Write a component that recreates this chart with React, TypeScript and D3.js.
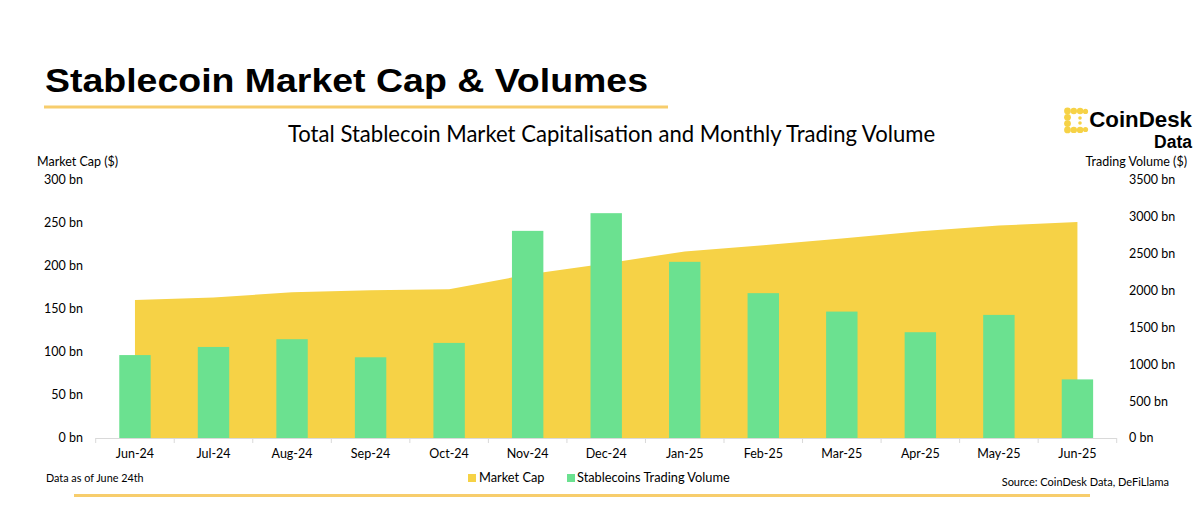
import React from "react";
import * as d3 from "d3";

// data (values in $bn)
const months = ["Jun-24", "Jul-24", "Aug-24", "Sep-24", "Oct-24", "Nov-24", "Dec-24", "Jan-25", "Feb-25", "Mar-25", "Apr-25", "May-25", "Jun-25"];
const marketCap = [160.5, 163.5, 169.4, 171.7, 172.9, 190, 203, 217, 224, 232, 240.5, 247, 251.2];
const tradingVolume = [1125, 1235, 1340, 1095, 1290, 2810, 3050, 2390, 1965, 1715, 1435, 1670, 795];
const leftTicks = [0, 50, 100, 150, 200, 250, 300];
const rightTicks = [0, 500, 1000, 1500, 2000, 2500, 3000, 3500];

const W = 1200;
const H = 509;
const plot = { left: 95.7, right: 1116.7, top: 180, bottom: 438 };

const YELLOW = "#F6D246";
const GREEN = "#6BE190";
const LINE = "#F7CD6C";
const body = "Lato, 'Open Sans', sans-serif";
const heavy = "'Liberation Sans', Arial, sans-serif";

export default function App() {
    const xs = d3.scalePoint(months, [plot.left, plot.right]).padding(0.5);
    const yL = d3.scaleLinear([0, 300], [plot.bottom, plot.top]);
    const yR = d3.scaleLinear([0, 3500], [plot.bottom, plot.top]);

    const area = d3.area<number>()
        .x((d, i) => xs(months[i])!)
        .y0(plot.bottom)
        .y1(d => yL(d));

    const step = xs.step();
    const boundaries = d3.range(months.length + 1).map(i => plot.left + i * step);

    // logo dots (a bracket made of circles)
    const dots: [number, number, number][] = [
        [0, 0, 3.4], [6.3, 0, 3.2], [12.6, 0, 3.2], [18, 0.4, 2.6],
        [0, 6.3, 3.4], [0, 12.6, 3.4], [0, 18.9, 3.4],
        [6.3, 18.9, 3.2], [12.6, 18.9, 3.2], [18, 18.5, 2.6],
        [12.5, 7, 1.8], [12.5, 12, 1.8],
    ];

    return (
        <div style={{ position: "absolute", left: 0, top: 0 }}>
            <svg width={W} height={H} style={{ display: "block", background: "#fff" }}>
                {/* headline */}
                <text x={45} y={92} fontFamily={heavy} fontWeight="bold" fontSize={33.5}
                    textLength={603} lengthAdjust="spacingAndGlyphs" fill="#000">
                    Stablecoin Market Cap &amp; Volumes
                </text>
                <rect x={44} y={105.5} width={624} height={3} fill={LINE} />

                {/* logo */}
                <g transform="translate(1067.5,111)">
                    {dots.map(([dx, dy, r], i) => <circle key={i} cx={dx} cy={dy} r={r} fill={YELLOW} />)}
                </g>
                <text x={1192} y={126.8} textAnchor="end" fontFamily={heavy} fontWeight="bold" fontSize={22.3}>CoinDesk</text>
                <text x={1192} y={148.3} textAnchor="end" fontFamily={heavy} fontWeight="bold" fontSize={17.5}>Data</text>

                {/* chart title */}
                <text x={611.5} y={142} textAnchor="middle" fontFamily={body} fontSize={22.1} fill="#000">
                    Total Stablecoin Market Capitalisation and Monthly Trading Volume
                </text>

                {/* axis titles */}
                <text x={37} y={166} fontFamily={body} fontSize={12.5}>Market Cap ($)</text>
                <text x={1187} y={166} textAnchor="end" fontFamily={body} fontSize={12.5}>Trading Volume ($)</text>

                {/* left ticks */}
                {leftTicks.map(t => (
                    <text key={t} x={83} y={yL(t)} dy="0.35em" textAnchor="end" fontFamily={body} fontSize={12.5}>{t} bn</text>
                ))}
                {/* right ticks */}
                {rightTicks.map(t => (
                    <text key={t} x={1129} y={yR(t)} dy="0.35em" fontFamily={body} fontSize={12.5}>{t} bn</text>
                ))}

                {/* market cap area */}
                <path d={area(marketCap)!} fill={YELLOW} />

                {/* volume bars */}
                {tradingVolume.map((v, i) => (
                    <rect key={months[i]} x={xs(months[i])! - 15.7} width={31.4} y={yR(v)} height={plot.bottom - yR(v)} fill={GREEN} />
                ))}

                {/* x axis */}
                <line x1={plot.left} x2={plot.right} y1={plot.bottom + 0.5} y2={plot.bottom + 0.5} stroke="#D9D9D9" />
                {boundaries.map((b, i) => (
                    <line key={i} x1={b} x2={b} y1={plot.bottom} y2={plot.bottom + 5} stroke="#D9D9D9" />
                ))}
                {months.map(m => (
                    <text key={m} x={xs(m)} y={458} textAnchor="middle" fontFamily={body} fontSize={12.5}>{m}</text>
                ))}

                {/* footer */}
                <text x={46} y={482} fontFamily={body} fontSize={10.8}>Data as of June 24th</text>
                <rect x={468} y={474} width={8} height={8} fill={YELLOW} />
                <text x={479} y={482} fontFamily={body} fontSize={12.8}>Market Cap</text>
                <rect x={567} y={474} width={8} height={8} fill={GREEN} />
                <text x={577} y={482} fontFamily={body} fontSize={12.8}>Stablecoins Trading Volume</text>
                <text x={1169} y={486} textAnchor="end" fontFamily={body} fontSize={11}>Source: CoinDesk Data, DeFiLlama</text>
                <rect x={74} y={494} width={1016} height={3} fill={LINE} />
            </svg>
        </div>
    );
}
